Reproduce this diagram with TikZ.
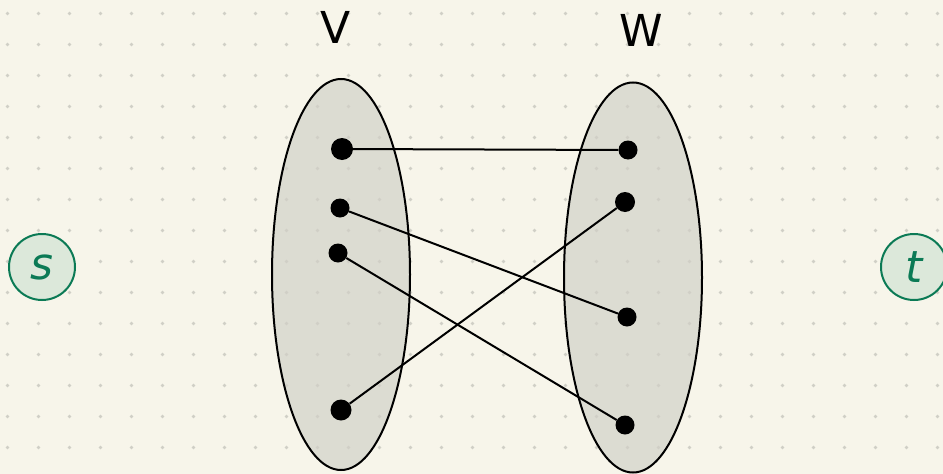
\documentclass[tikz,border=0pt]{standalone}
\usepackage{fontspec}
\setmainfont{DejaVu Sans}
\definecolor{bg}{HTML}{F7F5EA}
\definecolor{gridc}{HTML}{D0CFC6}
\definecolor{ellfill}{HTML}{DCDCD2}
\definecolor{sgreen}{HTML}{0B7A55}
\definecolor{sfill}{HTML}{DCE8DA}
\begin{document}
\begin{tikzpicture}[x=1pt,y=-1pt,
  part/.style={draw=black,line width=2pt},
  vtx/.style={circle,fill=black,inner sep=0pt,minimum size=#1pt},
  vtx/.default=10,
  edge/.style={line width=2pt,black},
  term/.style={circle,draw=sgreen,fill=sfill,line width=2pt,minimum size=66pt,inner sep=0pt,text=sgreen,font=\fontsize{44}{44}\selectfont\itshape},
  lbl/.style={font=\fontsize{44}{44}\selectfont}]
\fill[bg] (0,0) rectangle (943,474);
\useasboundingbox (0,0) rectangle (943,474);
\fill[ellfill] (341,274.5) ellipse [x radius=69, y radius=195.5];
\fill[ellfill] (633,277.5) ellipse [x radius=69, y radius=195];
\foreach \i in {0,...,30} {
  \foreach \j in {0,...,15} {
    \fill[gridc] (7.5+31*\i,13.5+31*\j) circle (1.8);
  }
}
\draw[part] (341,274.5) ellipse [x radius=69, y radius=195.5];
\draw[part] (633,277.5) ellipse [x radius=69, y radius=195];
\node[lbl] (V) at (336,27) {V};
\node[lbl] (W) at (641,30) {W};
\node[vtx=22] (v1) at (342,149) {};
\node[vtx=19] (v2) at (340,208) {};
\node[vtx=19] (v3) at (338,253) {};
\node[vtx=21] (v4) at (341,410) {};
\node[vtx=19] (w1) at (628,150) {};
\node[vtx=20] (w2) at (625,202) {};
\node[vtx=19] (w3) at (627,317) {};
\node[vtx=19] (w4) at (625,425) {};
\draw[edge] (v1) -- (w1);
\draw[edge] (v2) -- (w3);
\draw[edge] (v3) -- (w4);
\draw[edge] (v4) -- (w2);
\node[term] (s) at (42,267) {s};
\node[term] (t) at (914,267) {t};
\end{tikzpicture}
\end{document}
